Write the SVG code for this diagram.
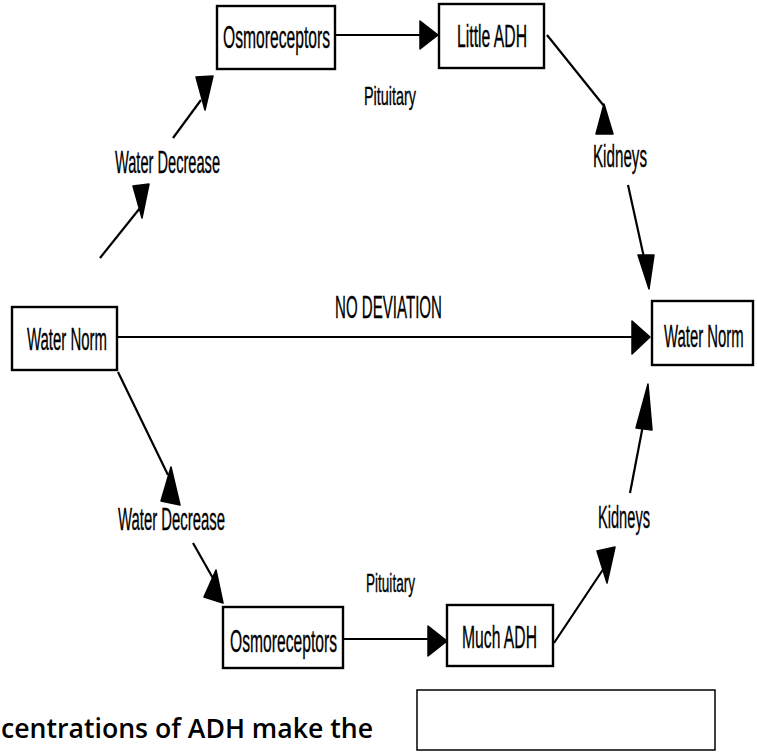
<svg xmlns="http://www.w3.org/2000/svg" width="757" height="753" viewBox="0 0 757 753">
<style>
.box{fill:#fff;stroke:#000;stroke-width:2.4}
.lbl{font-family:"Liberation Sans Narrow","Liberation Sans",Arial,sans-serif;font-size:31px;fill:#000;stroke:#000;stroke-width:0.35}
.sm{font-size:26px}
.ln{stroke:#000;stroke-width:2.2;fill:none}
.ah{fill:#000;stroke:#000;stroke-width:1.5;stroke-linejoin:round}
.cap{font-family:"Open Sans","Noto Sans","Liberation Sans",sans-serif;font-size:27px;font-weight:600;fill:#000}
</style>
<rect width="757" height="753" fill="#fff"/>
<g id="connectors">
  <line class="ln" x1="100" y1="258" x2="140" y2="208"/>
  <polygon class="ah" points="133,186 149,184 142,218"/>
  <line class="ln" x1="173" y1="138" x2="201" y2="100"/>
  <polygon class="ah" points="196,77 213,76 205,110"/>
  <line class="ln" x1="335" y1="35" x2="424" y2="35"/>
  <polygon class="ah" points="420,21 420,49 438,35"/>
  <line class="ln" x1="547" y1="35" x2="604" y2="106"/>
  <polygon class="ah" points="604,104 596,134 613,134"/>
  <line class="ln" x1="628" y1="185" x2="645" y2="262"/>
  <polygon class="ah" points="638,255 654,255 649,289"/>
  <line class="ln" x1="117" y1="337" x2="636" y2="337"/>
  <polygon class="ah" points="632,321 632,354 650,337"/>
  <line class="ln" x1="118" y1="372" x2="168" y2="475"/>
  <polygon class="ah" points="171,467 161,501 180,505"/>
  <line class="ln" x1="193" y1="543" x2="214" y2="580"/>
  <polygon class="ah" points="216,570 204,597 223,603"/>
  <line class="ln" x1="343" y1="639" x2="430" y2="639"/>
  <polygon class="ah" points="428,626 428,656 447,641"/>
  <line class="ln" x1="554" y1="643" x2="604" y2="568"/>
  <polygon class="ah" points="597,551 615,547 607,583"/>
  <line class="ln" x1="630" y1="493" x2="644" y2="420"/>
  <polygon class="ah" points="648,384 636,428 652,430"/>
</g>
<g id="labels">
  <text class="lbl" x="115" y="173" textLength="105" lengthAdjust="spacingAndGlyphs">Water Decrease</text>
  <text class="lbl sm" x="364" y="105" textLength="52" lengthAdjust="spacingAndGlyphs">Pituitary</text>
  <text class="lbl" x="593" y="167" textLength="54" lengthAdjust="spacingAndGlyphs">Kidneys</text>
  <text class="lbl" x="335" y="318" textLength="107" lengthAdjust="spacingAndGlyphs">NO DEVIATION</text>
  <text class="lbl" x="118" y="530" textLength="107" lengthAdjust="spacingAndGlyphs">Water Decrease</text>
  <text class="lbl sm" x="366" y="592" textLength="49" lengthAdjust="spacingAndGlyphs">Pituitary</text>
  <text class="lbl" x="598" y="528" textLength="52" lengthAdjust="spacingAndGlyphs">Kidneys</text>
</g>
<g id="osmo-top">
  <rect class="box" x="217" y="6" width="118" height="63"/>
  <text class="lbl" x="223" y="48" textLength="107" lengthAdjust="spacingAndGlyphs">Osmoreceptors</text>
</g>
<g id="little-adh">
  <rect class="box" x="439" y="4" width="105" height="64"/>
  <text class="lbl" x="457" y="47" textLength="70" lengthAdjust="spacingAndGlyphs">Little ADH</text>
</g>
<g id="water-norm-left">
  <rect class="box" x="12" y="307" width="105" height="63"/>
  <text class="lbl" x="27" y="350" textLength="80" lengthAdjust="spacingAndGlyphs">Water Norm</text>
</g>
<g id="water-norm-right">
  <rect class="box" x="652" y="301" width="101" height="64"/>
  <text class="lbl" transform="translate(664,347) scale(0.48,1)" x="0" y="0">Water Norm</text>
</g>
<g id="osmo-bottom">
  <rect class="box" x="223" y="607" width="120" height="61"/>
  <text class="lbl" x="230" y="652" textLength="107" lengthAdjust="spacingAndGlyphs">Osmoreceptors</text>
</g>
<g id="much-adh">
  <rect class="box" x="447" y="605" width="106" height="61"/>
  <text class="lbl" x="462" y="648" textLength="75" lengthAdjust="spacingAndGlyphs">Much ADH</text>
</g>
<g id="caption">
  <text class="cap" x="1" y="738" textLength="372" lengthAdjust="spacingAndGlyphs">centrations of ADH make the</text>
</g>
<g id="answer-box">
  <rect x="417" y="690" width="298" height="60" fill="#fff" stroke="#000" stroke-width="1.5"/>
</g>
</svg>
